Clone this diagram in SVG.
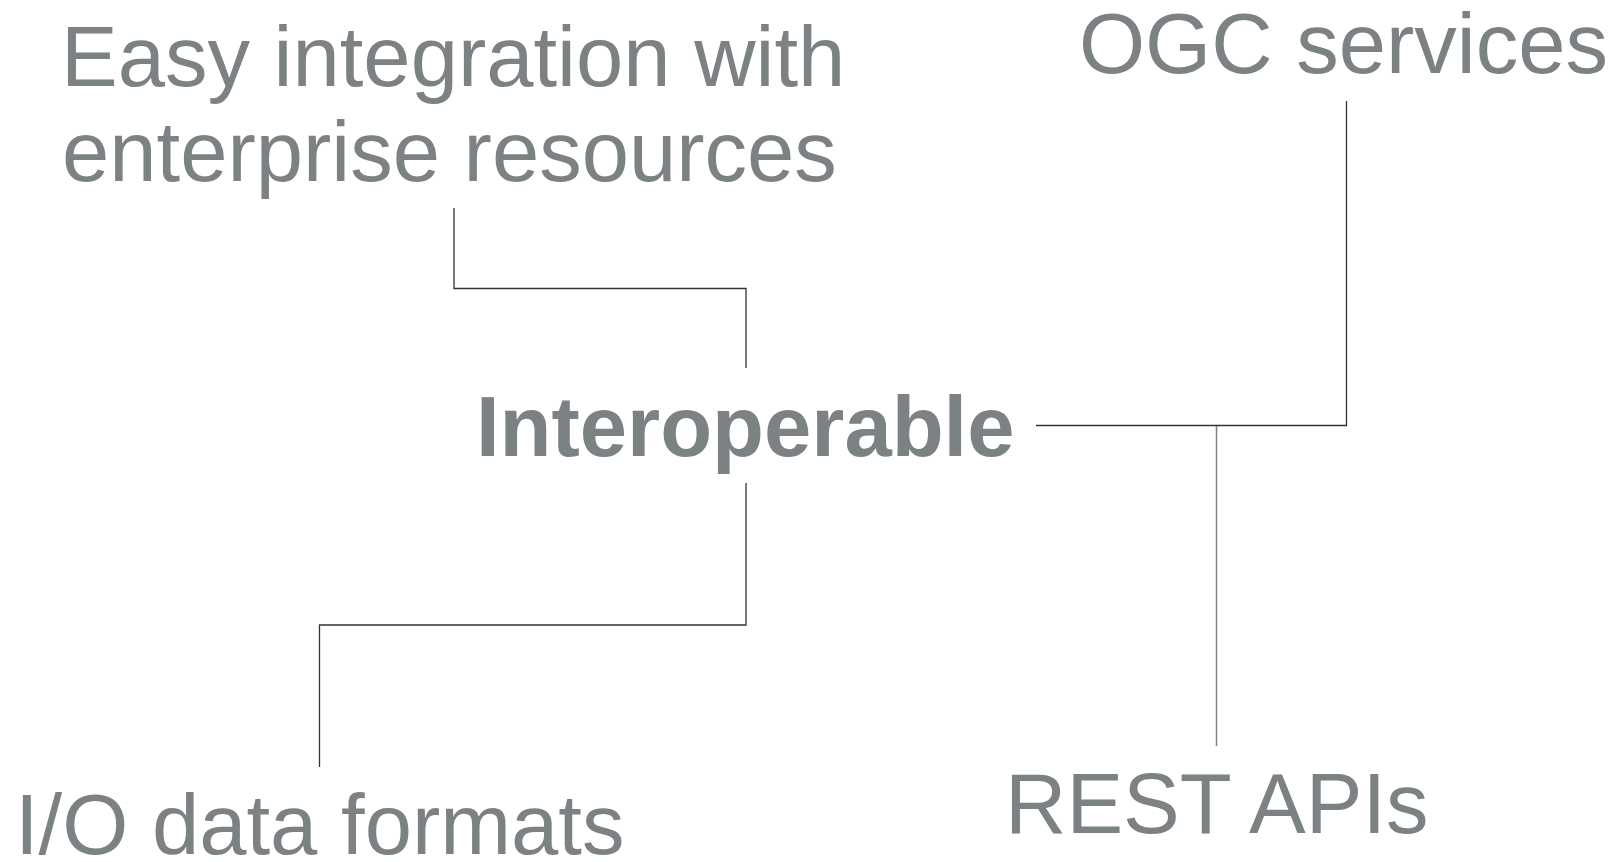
<svg xmlns="http://www.w3.org/2000/svg" width="1618" height="862" viewBox="0 0 1618 862">
<style>
.t{font-family:"Liberation Sans",Arial,sans-serif;font-size:85px;fill:#7c8184}
.b{font-weight:bold}
.c{fill:none;stroke:#333;stroke-width:1.3}
.g{fill:none;stroke:#808080;stroke-width:1.5}
</style>
<rect width="1618" height="862" fill="#fff"/>
<g id="connectors">
<polyline class="c" points="454,208 454,288.5 746,288.5 746,368"/>
<polyline class="c" points="746,483 746,625 319.5,625 319.5,767"/>
<polyline class="c" points="1036,425.5 1346.5,425.5 1346.5,101"/>
<line class="g" x1="1216.5" y1="426" x2="1216.5" y2="746"/>
</g>
<g id="node-enterprise">
<text class="t" x="61" y="86">Easy integration with</text>
<text class="t" x="62" y="181">enterprise resources</text>
</g>
<g id="node-ogc"><text class="t" x="1079" y="73">OGC services</text></g>
<g id="node-interoperable"><text class="t b" x="476" y="456">Interoperable</text></g>
<g id="node-io"><text class="t" x="15" y="854">I/O data formats</text></g>
<g id="node-rest"><text class="t" x="1005" y="833">REST APIs</text></g>
</svg>
